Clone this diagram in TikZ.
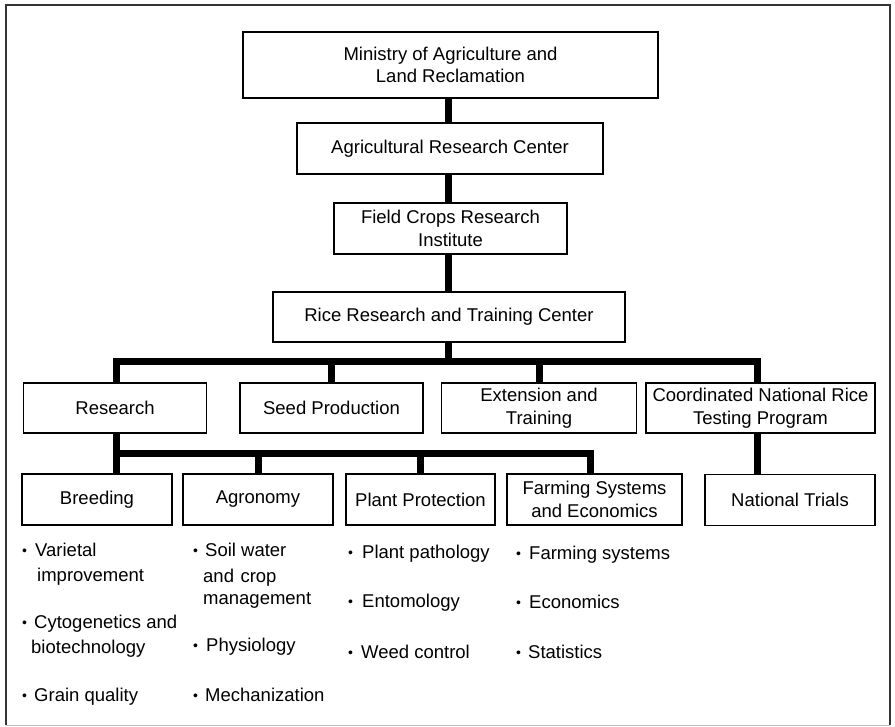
\documentclass[tikz,border=0pt]{standalone}
\usepackage{fontspec}
\setmainfont{Liberation Sans}
\begin{document}
\begin{tikzpicture}[x=1pt,y=-1pt,
  box/.style={draw=black, line width=1.6pt, rectangle, inner sep=0pt, align=center,
    font=\fontsize{18.5}{22.5}\selectfont},
  conn/.style={draw=black, line width=7pt, line join=miter},
  itm/.style={anchor=base west, inner sep=0pt, font=\fontsize{18.5}{22.5}\selectfont},
  bul/.style={anchor=base west, inner sep=0pt, font=\fontsize{14}{16}\selectfont}]
\useasboundingbox (0,0) rectangle (895,727);
% frame
\draw[line width=1.4pt, black!80] (6,725) -- (6,5) -- (890,5) -- (890,725);
\draw[line width=1pt, black!25] (6,725) -- (890,725);
% top chain
\node[box, minimum width=415pt, minimum height=66pt] (min) at (450.5,65) {Ministry of Agriculture and\\Land Reclamation};
\node[box, minimum width=306pt, minimum height=51pt] (arc) at (450,148.5) {Agricultural Research Center};
\node[box, minimum width=233pt, minimum height=51pt] (fcri) at (450.5,228.5) {Field Crops Research\\Institute};
\node[box, minimum width=352pt, minimum height=50pt] (rrtc) at (449,317) {Rice Research and Training Center};
% second level
\node[box, minimum width=183pt, minimum height=50pt] (res) at (115,408) {Research};
\node[box, minimum width=183pt, minimum height=50pt] (seed) at (331.5,408) {Seed Production};
\node[box, minimum width=195pt, minimum height=50pt] (ext) at (539,408) {Extension and\\Training};
\node[box, minimum width=229pt, minimum height=50pt] (cnrp) at (760.5,408) {Coordinated National Rice\\Testing Program};
% third level
\node[box, minimum width=150pt, minimum height=51pt] (brd) at (97,499.5) {Breeding};
\node[box, minimum width=150pt, minimum height=51pt] (agr) at (258,499.5) {Agronomy};
\node[box, minimum width=149pt, minimum height=51pt] (pp) at (420.5,499.5) {Plant Protection};
\node[box, minimum width=175pt, minimum height=51pt] (fse) at (594.5,499.5) {Farming Systems\\and Economics};
\node[box, minimum width=170pt, minimum height=51pt] (nt) at (790,500) {National Trials};
% connectors
\coordinate (bar) at (448,361.5);
\coordinate (bar2) at (116,454);
\draw[conn] (min.south -| 448,0) -- (arc.north -| 448,0);
\draw[conn] (arc.south -| 448,0) -- (fcri.north -| 448,0);
\draw[conn] (fcri.south -| 448,0) -- (rrtc.north -| 448,0);
\draw[conn] (rrtc.south -| bar) -- (bar);
\draw[conn] (res.north -| 116,0) |- (bar) -| (cnrp.north -| 757,0);
\draw[conn] (seed.north) -- (seed.north |- bar);
\draw[conn] (ext.north) -- (ext.north |- bar);
\draw[conn] (res.south -| bar2) -- (brd.north -| bar2);
\draw[conn] (bar2) -| (fse.north -| 590,0);
\draw[conn] (agr.north) -- (agr.north |- bar2);
\draw[conn] (pp.north) -- (pp.north |- bar2);
\draw[conn] (cnrp.south -| 757,0) -- (nt.north -| 757,0);
% Breeding list
\node[bul] (bb1) at (22,555) {•};
\node[itm] (b1a) at (35,556) {Varietal};
\node[itm] (b1b) at (37,581) {improvement};
\node[bul] (bb2) at (22,627) {•};
\node[itm] (b2a) at (34,628) {Cytogenetics and};
\node[itm] (b2b) at (31,653) {biotechnology};
\node[bul] (bb3) at (22,700) {•};
\node[itm] (b3a) at (34,701) {Grain quality};
% Agronomy list
\node[bul] (ab1) at (193,555) {•};
\node[itm] (a1a) at (205,556) {Soil water};
\node[itm] (a1b) at (203,582) {and\hspace{0.35em}crop};
\node[itm] (a1c) at (203,604) {management};
\node[bul] (ab2) at (193,650) {•};
\node[itm] (a2a) at (206,651) {Physiology};
\node[bul] (ab3) at (193,700) {•};
\node[itm] (a3a) at (205,701) {Mechanization};
% Plant protection list
\node[bul] (pb1) at (348,557) {•};
\node[itm] (p1a) at (362,558) {Plant pathology};
\node[bul] (pb2) at (348,606) {•};
\node[itm] (p2a) at (362,607) {Entomology};
\node[bul] (pb3) at (348,657) {•};
\node[itm] (p3a) at (361,658) {Weed control};
% Farming list
\node[bul] (fb1) at (516,558) {•};
\node[itm] (f1a) at (529,559) {Farming systems};
\node[bul] (fb2) at (516,607) {•};
\node[itm] (f2a) at (529,608) {Economics};
\node[bul] (fb3) at (516,657) {•};
\node[itm] (f3a) at (528,658) {Statistics};
\end{tikzpicture}
\end{document}
